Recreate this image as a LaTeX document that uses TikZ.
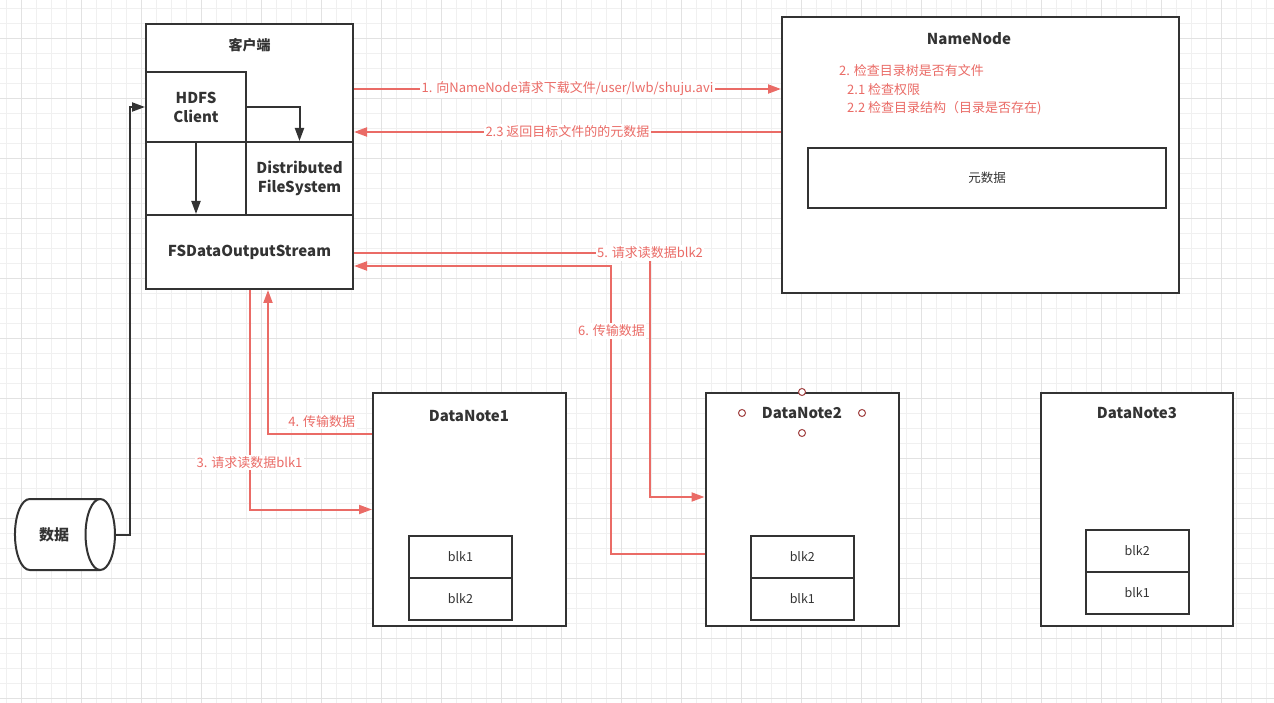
\documentclass[tikz,border=0pt]{standalone}
\usepackage{fontspec}
\setmainfont{Noto Sans CJK SC}
\usetikzlibrary{arrows.meta,shapes.geometric}
\definecolor{ink}{HTML}{333333}
\definecolor{lnred}{HTML}{EA6B66}
\definecolor{ptred}{HTML}{A04040}
\definecolor{gridminor}{HTML}{F0F0F0}
\definecolor{gridmajor}{HTML}{E2E2E2}
\tikzset{
  box/.style={draw=ink, line width=2pt, fill=white, inner sep=0pt},
  ttl/.style={text=ink, font=\fontsize{15}{19}\selectfont\bfseries, align=center},
  txt/.style={text=ink, font=\fontsize{12.5}{15}\selectfont},
  rtxt/.style={text=lnred, font=\fontsize{13}{15}\selectfont},
  rlbl/.style={rtxt, fill=white, inner sep=1.5pt},
  rarr/.style={draw=lnred, line width=2pt, -{Triangle[length=13pt,width=9pt]}},
  karr/.style={draw=ink, line width=2pt, -{Triangle[length=13pt,width=9pt]}},
  hook/.style={draw=ptred, line width=1pt, fill=white, circle, inner sep=0pt, minimum size=7pt},
}

\begin{document}
\begin{tikzpicture}[x=1pt,y=-1pt]
    \useasboundingbox (0,0) rectangle (1274,703);
    % grid
    \foreach \i in {0,...,84} \draw[gridminor, line width=1pt] ({6.7+15*\i},0) -- ({6.7+15*\i},703);
    \foreach \j in {0,...,46} \draw[gridminor, line width=1pt] (0,{8.3+15*\j}) -- (1274,{8.3+15*\j});
    \foreach \i in {0,...,20} \draw[gridmajor, line width=1pt] ({21.7+60*\i},0) -- ({21.7+60*\i},703);
    \foreach \j in {0,...,11} \draw[gridmajor, line width=1pt] (0,{38.3+60*\j}) -- (1274,{38.3+60*\j});

    % client
    \node[box, minimum width=207pt, minimum height=265pt] (client) at (249.5,156.5) {};
    \node[ttl, font=\fontsize{14}{18}\selectfont\bfseries] (cltitle) at (249.5,45) {客户端};
    \node[box, ttl, minimum width=100pt, minimum height=70pt] (hdfs) at (196,107) {HDFS\\Client};
    \node[box, ttl, minimum width=107pt, minimum height=73pt] (dfs) at (299.5,178.5) {Distributed\\FileSystem};
    \node[box, ttl, minimum width=207pt, minimum height=74pt] (fsd) at (249.5,252) {FSDataOutputStream};

    % namenode
    \node[box, minimum width=397pt, minimum height=276pt] (nn) at (980.5,155) {};
    \node[ttl] (nntitle) at (969,39) {NameNode};
    \node[rtxt, anchor=west, inner sep=0pt] (chk) at (839,71) {2. 检查目录树是否有文件};
    \node[rtxt, anchor=west, inner sep=0pt] (chka) at (847,89.5) {2.1 检查权限};
    \node[rtxt, anchor=west, inner sep=0pt] (chkb) at (847,108) {2.2 检查目录结构（目录是否存在)};
    \node[box, txt, minimum width=358pt, minimum height=60pt] (meta) at (987,178) {元数据};

    % datanodes
    \node[box, minimum width=193pt, minimum height=233pt] (dn1) at (469.5,509.5) {};
    \node[ttl] (t1) at (469,416) {DataNote1};
    \node[box, txt, minimum width=103.5pt, minimum height=42pt] (b11) at (460.5,556.7) {blk1};
    \node[box, txt, minimum width=103.5pt, minimum height=42pt] (b12) at (460.5,598.5) {blk2};

    \node[box, minimum width=193pt, minimum height=233pt] (dn2) at (802,509.5) {};
    \node[ttl] (t2) at (802,413) {DataNote2};
    \node[box, txt, minimum width=103.5pt, minimum height=42pt] (b21) at (802.3,556.7) {blk2};
    \node[box, txt, minimum width=103.5pt, minimum height=42pt] (b22) at (802.3,598.5) {blk1};
    \node[hook] (hk1) at (dn2.north) {};
    \node[hook] (hk2) at (742,413) {};
    \node[hook] (hk3) at (862,413) {};
    \node[hook] (hk4) at (802,433) {};

    \node[box, minimum width=192pt, minimum height=233pt] (dn3) at (1137,509.5) {};
    \node[ttl] (t3) at (1137,413) {DataNote3};
    \node[box, txt, minimum width=103pt, minimum height=42pt] (b31) at (1137.2,551) {blk2};
    \node[box, txt, minimum width=103pt, minimum height=42pt] (b32) at (1137.2,592.7) {blk1};

    % data source
    \node[cylinder, shape border rotate=0, aspect=1.4, draw=ink, line width=2pt, fill=white,
          minimum width=71pt, minimum height=100pt, text=ink,
          font=\fontsize{15}{17}\selectfont\bfseries] (db) at (54,534.5) {数据};

    % connectors
    \draw[karr] (db.east) -| (130,107) -- (hdfs.west);
    \draw[karr] (hdfs.east) -| (dfs.north);
    \draw[karr] (hdfs.south) -- (hdfs.south |- fsd.north);

    \draw[rarr] (client.east |- 0,89) -- node[rlbl] {1. 向NameNode请求下载文件/user/lwb/shuju.avi} (nn.west |- 0,89);
    \draw[rarr] (nn.west |- 0,132) -- node[rlbl] {2.3 返回目标文件的的元数据} (client.east |- 0,132);
    \draw[rarr] (fsd.south) |- (dn1.west);
    \node[rlbl] (l3) at (249.5,462.7) {3. 请求读数据blk1};
    \draw[rarr] (dn1.west |- 0,434) -| ([xshift=18.5pt]fsd.south);
    \node[rlbl] (l4) at (321.7,421.7) {4. 传输数据};
    \draw[rarr] (fsd.east |- 0,253) -| node[rlbl, pos=0.5] {5. 请求读数据blk2} (650,497) -- (dn2.west |- 0,497);
    \draw[rarr] (dn2.west |- 0,554) -| (611,266) -- (fsd.east |- 0,266);
    \node[rlbl] (l6) at (611.5,331) {6. 传输数据};
\end{tikzpicture}
\end{document}
